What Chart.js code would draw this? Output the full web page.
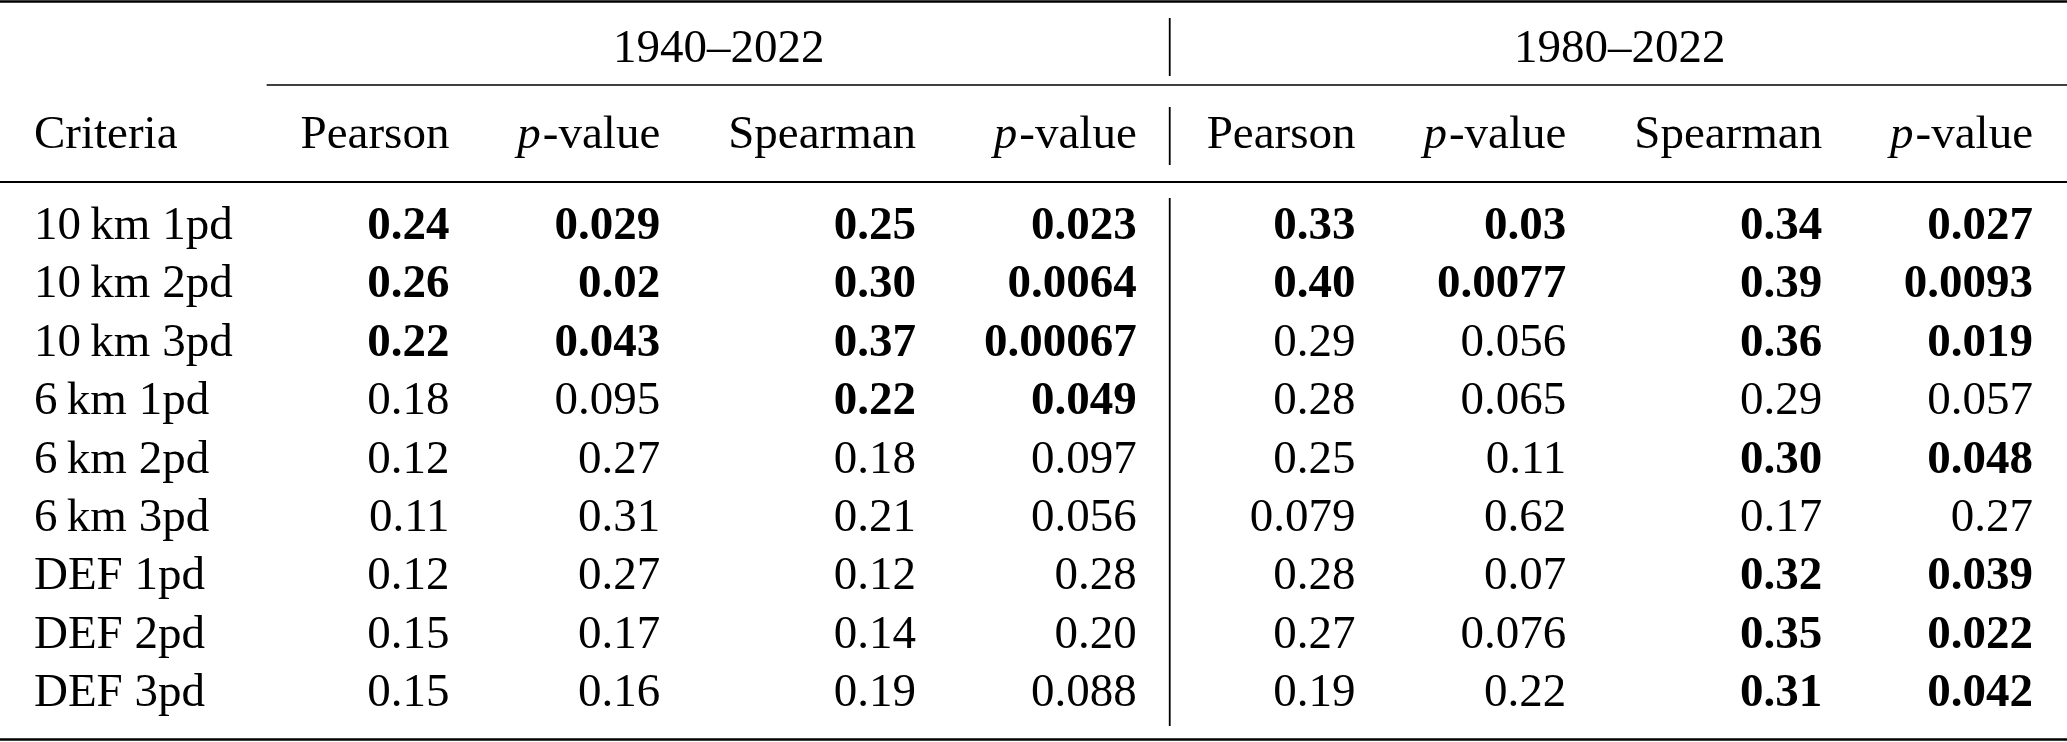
<!DOCTYPE html>
<html><head><meta charset="utf-8">
<script src="https://cdn.jsdelivr.net/npm/chart.js@4/dist/chart.umd.min.js"></script>
<style>html,body{margin:0;padding:0;background:#fff;overflow:hidden}#wrap{width:2067px;height:742px;position:relative}</style>
</head><body><div id="wrap"><canvas id="c"></canvas></div>
<script>
// ---------------- data ----------------
const criteria = ["10\u2009km 1pd","10\u2009km 2pd","10\u2009km 3pd","6\u2009km 1pd","6\u2009km 2pd","6\u2009km 3pd","DEF 1pd","DEF 2pd","DEF 3pd"];
const criteriaHeader = "Criteria";
const periods = ["1940\u20132022","1980\u20132022"];
const statHeaders = ["Pearson","p-value","Spearman","p-value"];
const pearson1940   = ["0.24","0.26","0.22","0.18","0.12","0.11","0.12","0.15","0.15"];
const pearsonP1940  = ["0.029","0.02","0.043","0.095","0.27","0.31","0.27","0.17","0.16"];
const spearman1940  = ["0.25","0.30","0.37","0.22","0.18","0.21","0.12","0.14","0.19"];
const spearmanP1940 = ["0.023","0.0064","0.00067","0.049","0.097","0.056","0.28","0.20","0.088"];
const pearson1980   = ["0.33","0.40","0.29","0.28","0.25","0.079","0.28","0.27","0.19"];
const pearsonP1980  = ["0.03","0.0077","0.056","0.065","0.11","0.62","0.07","0.076","0.22"];
const spearman1980  = ["0.34","0.39","0.36","0.29","0.30","0.17","0.32","0.35","0.31"];
const spearmanP1980 = ["0.027","0.0093","0.019","0.057","0.048","0.27","0.039","0.022","0.042"];
const significanceLevel = 0.05;

// ---------------- layout / style ----------------
const W = 2067, H = 742;
const FONT = '"Liberation Serif","Times New Roman",serif';
const SIZE = 47;
const firstBaseline = 239, pitch = 58.4;
const toRow = px => (px - firstBaseline) / pitch;
const ROW_SPAN = toRow(62), ROW_HEAD = toRow(148);
const ruleW = 2;

const groups = [
  {period: periods[0], series: [pearson1940, pearsonP1940, spearman1940, spearmanP1940]},
  {period: periods[1], series: [pearson1980, pearsonP1980, spearman1980, spearmanP1980]}
];

const mctx = document.createElement('canvas').getContext('2d');
function fontOf(style){ return (style ? style + ' ' : '') + SIZE + 'px ' + FONT; }
function runsWidth(runs){
  let w = 0;
  for (const r of runs){ mctx.font = fontOf(r.s); w += mctx.measureText(r.t).width + (r.gap || 0); }
  return w;
}
function headerRuns(label){
  if (label === 'p-value') return [{t:'p', s:'italic', gap:2},{t:'-value', s:''}];
  return [{t:label, s:''}];
}

// build columns: each column = list of {row, runs}
const columns = [];
columns.push([{row: ROW_HEAD, runs:[{t:criteriaHeader,s:''}]}].concat(
  criteria.map((c,i)=>({row:i, runs:[{t:c,s:''}]}))));
groups.forEach(g=>{
  g.series.forEach((vals, k)=>{
    const pVals = g.series[k % 2 === 0 ? k + 1 : k];
    const col = [{row: ROW_HEAD, runs: headerRuns(statHeaders[k])}];
    vals.forEach((v,i)=>{
      const bold = Number(pVals[i]) < significanceLevel;
      col.push({row:i, runs:[{t:v, s: bold ? 'bold' : ''}]});
    });
    columns.push(col);
  });
});

const widths = columns.map(col => Math.max(...col.map(c => runsWidth(c.runs))));
const sumW = widths.reduce((a,b)=>a+b,0);
const sep = (W - ruleW - sumW) / (2 * columns.length);

// positions along x (linear scale 0..W)
const textPoints = [];
let x = 0, boundaries = [], ruleX = 0;
columns.forEach((col, j)=>{
  if (j === 5){ ruleX = x + ruleW/2 - 2; x += ruleW; }
  const left = x + sep, right = x + sep + widths[j];
  col.forEach(c=>{
    const w = runsWidth(c.runs);
    textPoints.push({x: j === 0 ? left : right - w, y: c.row, runs: c.runs});
  });
  x += widths[j] + 2*sep;
  boundaries.push(x);
});
// spanners
const spanRanges = [[boundaries[0], boundaries[4]], [boundaries[4] + ruleW, W]];
groups.forEach((g, k)=>{
  const runs = [{t:g.period, s:''}];
  const c = (spanRanges[k][0] + spanRanges[k][1]) / 2;
  textPoints.push({x: c - runsWidth(runs)/2, y: ROW_SPAN, runs});
});

function hRule(y, x0, x1, w){ return {data:[{x:x0,y:toRow(y)},{x:x1,y:toRow(y)}], showLine:true, borderColor:'#000', borderWidth:w, pointRadius:0, clip:false}; }
function vRule(y0, y1){ return {data:[{x:ruleX,y:toRow(y0)},{x:ruleX,y:toRow(y1)}], showLine:true, borderColor:'#000', borderWidth:1.8, pointRadius:0, clip:false}; }

const textPlugin = {
  id:'cellText',
  afterDatasetsDraw(chart){
    const ctx = chart.ctx;
    chart.data.datasets.forEach((ds, di)=>{
      if (!ds.isText) return;
      const meta = chart.getDatasetMeta(di);
      ctx.save();
      ctx.fillStyle = '#000';
      ctx.textBaseline = 'alphabetic';
      ctx.textAlign = 'left';
      meta.data.forEach((el, i)=>{
        let px = el.x;
        for (const r of ds.data[i].runs){
          ctx.font = fontOf(r.s);
          ctx.fillText(r.t, px, el.y);
          px += ctx.measureText(r.t).width + (r.gap || 0);
        }
      });
      ctx.restore();
    });
  }
};

new Chart(document.getElementById('c'), {
  type:'scatter',
  data:{datasets:[
    {isText:true, data:textPoints, pointRadius:0, clip:false},
    hRule(1.5, 0, W, 2.4),
    hRule(85, boundaries[0], W, 1.6),
    hRule(182, 0, W, 2),
    hRule(739.5, 0, W, 2.6),
    vRule(18, 76), vRule(107, 165), vRule(198, 726)
  ]},
  options:{
    responsive:true, maintainAspectRatio:false, animation:false, events:[],
    layout:{padding:0},
    plugins:{legend:{display:false}, tooltip:{enabled:false}},
    scales:{
      x:{type:'linear', min:0, max:W, display:false},
      y:{type:'linear', min:toRow(0), max:toRow(H), reverse:true, display:false}
    }
  },
  plugins:[textPlugin]
});
</script></body></html>
